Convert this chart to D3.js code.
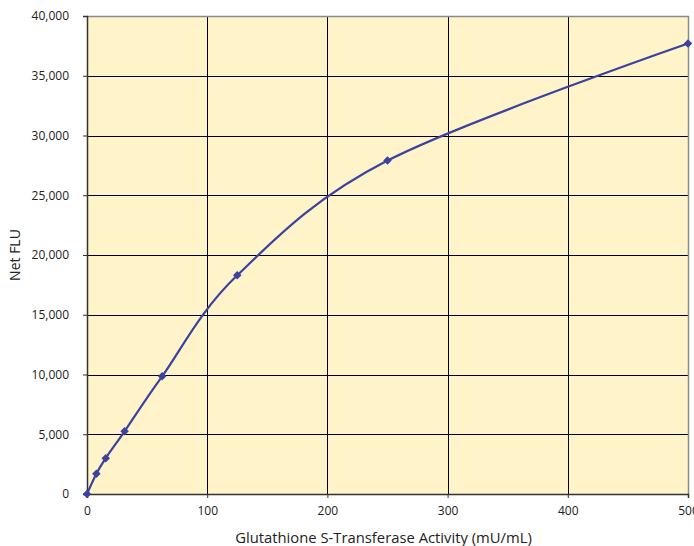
<!DOCTYPE html>
<html><head><meta charset="utf-8">
<script src="https://cdn.jsdelivr.net/npm/d3@7"></script>
<style>body{margin:0;background:#fff}svg{display:block}</style>
</head><body>
<script>
const activity = [0, 7.8, 15.6, 31.25, 62.5, 125, 250, 500];
const netFLU = [0, 1700, 3000, 5250, 9850, 18300, 27900, 37700];
const xTicks = [0, 100, 200, 300, 400, 500];
const yTicks = [0, 5000, 10000, 15000, 20000, 25000, 30000, 35000, 40000];
const xTitle = "Glutathione S-Transferase Activity (mU/mL)";
const yTitle = "Net FLU";

const W = 694, H = 546;
const m = {l: 87, r: 6, t: 16, b: 52};
const svg = d3.select("body").append("svg").attr("width", W).attr("height", H);
const x = d3.scaleLinear().domain([0, 500]).range([m.l, W - m.r]);
const y = d3.scaleLinear().domain([0, 40000]).range([H - m.b, m.t]);
const font = "'Open Sans', 'Noto Sans', sans-serif";

svg.append("rect").attr("x", x(0)).attr("y", y(40000))
  .attr("width", x(500) - x(0)).attr("height", y(0) - y(40000)).attr("fill", "#FFF3C9");

// grid
svg.append("g").selectAll("line").data(yTicks.slice(1, -1)).join("line")
  .attr("x1", x(0)).attr("x2", x(500)).attr("y1", d => Math.round(y(d)) + 0.5).attr("y2", d => Math.round(y(d)) + 0.5)
  .attr("stroke", "#000").attr("stroke-width", 1);
svg.append("g").selectAll("line").data(xTicks.slice(1, -1)).join("line")
  .attr("y1", y(0)).attr("y2", y(40000)).attr("x1", d => Math.round(x(d)) + 0.5).attr("x2", d => Math.round(x(d)) + 0.5)
  .attr("stroke", "#000").attr("stroke-width", 1);

// frame top/right
svg.append("path").attr("d", `M${x(0)},${Math.round(y(40000))+0.5}H${Math.round(x(500))+0.5}V${y(0)}`)
  .attr("fill", "none").attr("stroke", "#8a8a8a").attr("stroke-width", 1.5);

// axes
const yAxis = d3.axisLeft(y).tickValues(yTicks).tickSize(4).tickPadding(14)
  .tickFormat(d3.format(","));
const gy = svg.append("g").attr("transform", `translate(${x(0)},0)`).call(yAxis);
const xAxis = d3.axisBottom(x).tickValues(xTicks).tickSize(4).tickPadding(8)
  .tickFormat(d3.format("d"));
const gx = svg.append("g").attr("transform", `translate(0,${y(0)})`).call(xAxis);
[gx, gy].forEach(g => {
  g.select(".domain").attr("stroke", "#333").attr("stroke-width", 1.5);
  g.selectAll(".tick line").attr("stroke", "#333");
  g.selectAll("text").attr("font-family", font).attr("font-size", 12).attr("fill", "#222");
});

// titles
svg.append("text").attr("x", (x(0) + x(500)) / 2 - 4).attr("y", 543)
  .attr("text-anchor", "middle").attr("font-family", font).attr("font-size", 14.8).attr("fill", "#222").text(xTitle);
svg.append("text").attr("transform", `translate(20,${(y(0) + y(40000)) / 2}) rotate(-90)`)
  .attr("text-anchor", "middle").attr("font-family", font).attr("font-size", 14).attr("fill", "#222").text(yTitle);

// line
const pts = activity.map((a, i) => [a, netFLU[i]]);
svg.append("path").datum(pts)
  .attr("d", d3.line().x(d => x(d[0])).y(d => y(d[1])).curve(d3.curveCatmullRom.alpha(0)))
  .attr("fill", "none").attr("stroke", "#3B42A0").attr("stroke-width", 2.2);
svg.append("g").selectAll("path").data(pts).join("path")
  .attr("transform", d => `translate(${x(d[0])},${y(d[1])}) rotate(45)`)
  .attr("d", d3.symbol(d3.symbolSquare, 36)())
  .attr("fill", "#3B42A0");
</script>
</body></html>
